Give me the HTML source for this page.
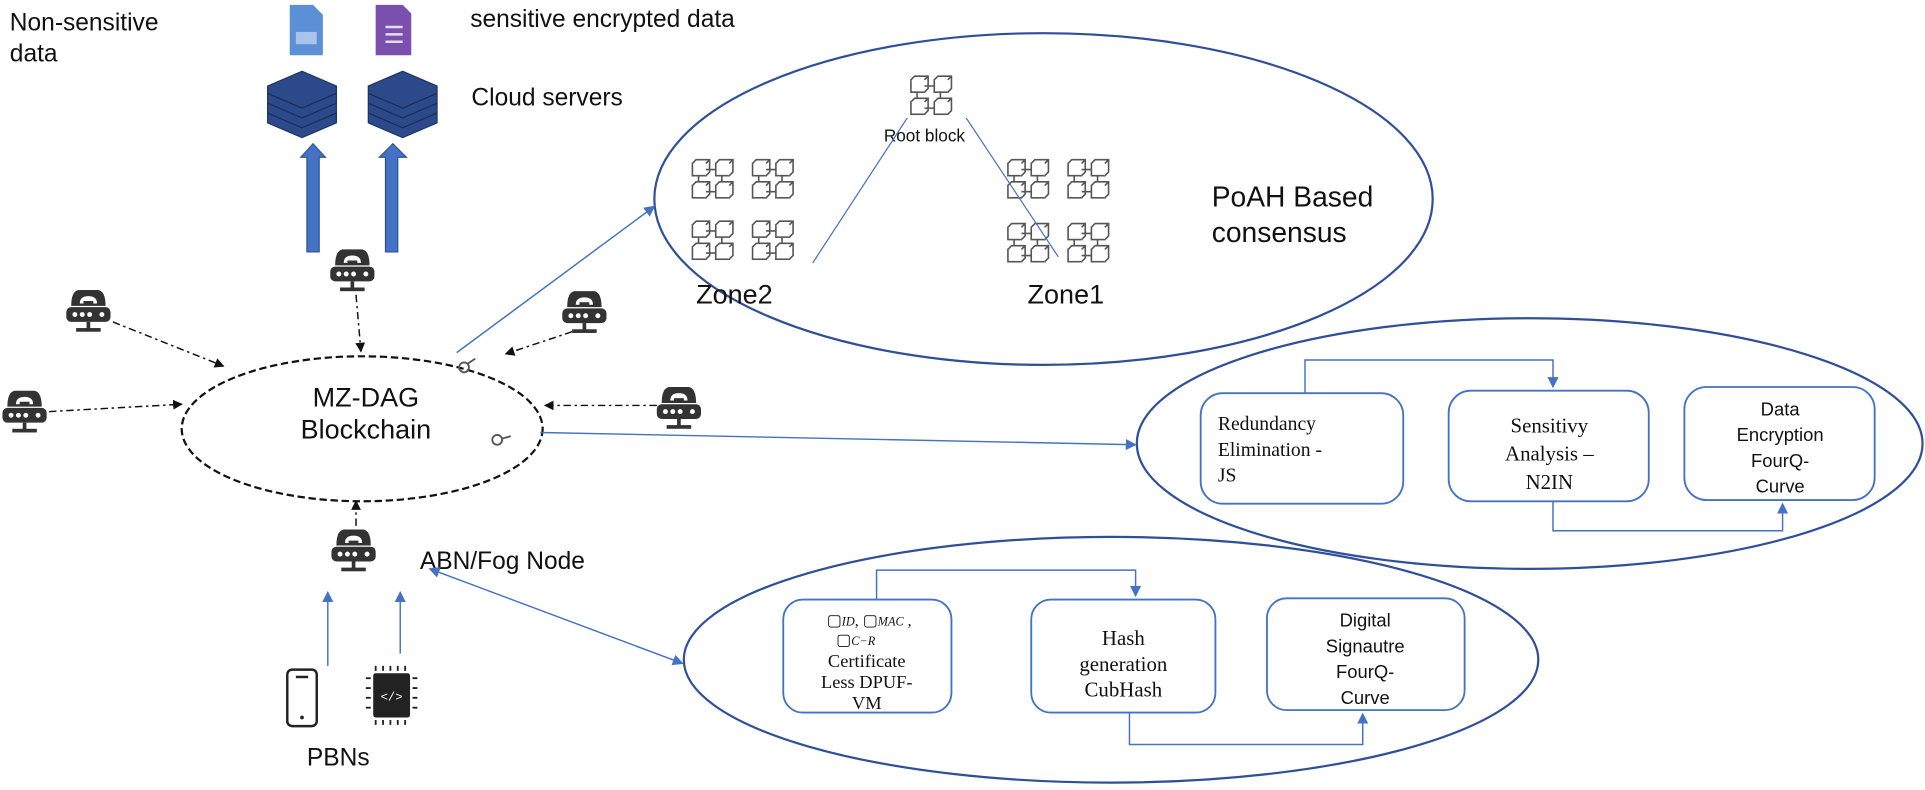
<!DOCTYPE html>
<html><head><meta charset="utf-8"><style>
html,body{margin:0;padding:0;background:#fff;width:1925px;height:790px;overflow:hidden}
svg{display:block}
.s{font-family:"Liberation Sans",sans-serif;fill:#111}
.r{font-family:"Liberation Serif",serif;fill:#111}
</style></head><body>
<svg width="1925" height="790" viewBox="0 0 1568 643" preserveAspectRatio="none" xmlns="http://www.w3.org/2000/svg">
<defs>
<marker id="ab" markerWidth="8" markerHeight="8" refX="7" refY="4" orient="auto" markerUnits="userSpaceOnUse"><path d="M0,0 L8,4 L0,8 z" fill="#111"/></marker>
<marker id="abl" markerWidth="9" markerHeight="9" refX="8" refY="4.5" orient="auto" markerUnits="userSpaceOnUse"><path d="M0,0 L9,4.5 L0,9 z" fill="#4472c4"/></marker>
<marker id="abls" markerWidth="9" markerHeight="9" refX="1" refY="4.5" orient="auto" markerUnits="userSpaceOnUse"><path d="M9,0 L0,4.5 L9,9 z" fill="#4472c4"/></marker>
<g id="rt">
<path d="M4,14 Q4,2 10,1 L26,1 Q32,2 32,14 Z" fill="#333"/>
<path d="M11,12 Q11,6 18,6 Q25,6 25,12 L22,12 L22,10 L14,10 L14,12 Z" fill="#fff"/>
<rect x="0" y="15" width="36" height="12" rx="4" fill="#333"/>
<circle cx="7" cy="21" r="2" fill="#fff"/><circle cx="13" cy="21" r="2" fill="#fff"/><circle cx="19" cy="21" r="2" fill="#fff"/><circle cx="29" cy="21" r="2" fill="#fff"/>
<rect x="16.5" y="27" width="3" height="6" fill="#333"/><rect x="8" y="32" width="20" height="3" fill="#333"/>
</g>
<g id="cb" fill="#fff" stroke="#555" stroke-width="1.3">
<rect x="1" y="3" width="11" height="10"/><path d="M1,3 l3,-3 h11 v10 l-3,3 M12,3 l3,-3"/>
<rect x="20" y="3" width="11" height="10"/><path d="M20,3 l3,-3 h11 v10 l-3,3 M31,3 l3,-3"/>
<rect x="1" y="21" width="11" height="10"/><path d="M1,21 l3,-3 h11 v10 l-3,3 M12,21 l3,-3"/>
<rect x="20" y="21" width="11" height="10"/><path d="M20,21 l3,-3 h11 v10 l-3,3 M31,21 l3,-3"/>
<path d="M12,8 h8 M12,26 h8 M6,13 v5 M25,13 v5"/>
</g>
</defs>

<text class="s" x="8" y="25" font-size="20">Non-sensitive</text>
<text class="s" x="8" y="50" font-size="20">data</text>
<text class="s" x="383" y="22" font-size="20">sensitive encrypted data</text>
<text class="s" x="384" y="86" font-size="20">Cloud servers</text>
<path d="M236,4 h19 l8,8 v33 h-27 z" fill="#5b8fd6"/><rect x="241" y="26" width="17" height="10" fill="#a9c4ea"/>
<path d="M306,4 h22 l7,7 v34 h-29 z" fill="#7a4fae"/><path d="M314,22 h14 M314,28 h14 M314,34 h14" stroke="#e5dcf2" stroke-width="2"/>
<g fill="#2c4a8a" stroke="#1e3568" stroke-width="1">
<path d="M218,70 L246,58 L274,70 L274,100 L246,112 L218,100 Z"/>
<path d="M300,70 L328,58 L356,70 L356,100 L328,112 L300,100 Z"/>
</g>
<g stroke="#1a2d5c" stroke-width="1" fill="none">
<path d="M218,76 L246,88 L274,76 M218,84 L246,96 L274,84 M218,92 L246,104 L274,92"/>
<path d="M300,76 L328,88 L356,76 M300,84 L328,96 L356,84 M300,92 L328,104 L356,92"/>
</g>
<path d="M250,205 V128 H245 L255,117 L265,128 H260 V205 Z" fill="#4472c4" stroke="#2f5597" stroke-width="1"/>
<path d="M314,205 V128 H309 L320,117 L331,128 H324 V205 Z" fill="#4472c4" stroke="#2f5597" stroke-width="1"/>

<use href="#rt" x="269" y="202"/>
<use href="#rt" x="54" y="235"/>
<use href="#rt" x="2" y="317"/>
<use href="#rt" x="458" y="236"/>
<use href="#rt" x="535" y="314"/>
<use href="#rt" x="270" y="430"/>

<ellipse cx="295" cy="349" rx="147" ry="59" fill="none" stroke="#111" stroke-width="1.8" stroke-dasharray="6,3"/>
<text class="s" x="298" y="331" font-size="22" text-anchor="middle">MZ-DAG</text>
<text class="s" x="298" y="357" font-size="22" text-anchor="middle">Blockchain</text>
<g fill="none" stroke="#555" stroke-width="1.5"><circle cx="378" cy="299" r="4"/><path d="M381,296 l6,-4"/><circle cx="405" cy="358" r="4"/><path d="M409,357 l7,-2"/></g>
<g stroke="#111" stroke-width="1.2" stroke-dasharray="6,3,2,3" fill="none">
<path d="M290,240 L294,286" marker-end="url(#ab)"/>
<path d="M92,262 L182,298" marker-end="url(#ab)"/>
<path d="M40,335 L148,329" marker-end="url(#ab)"/>
<path d="M466,270 L412,288" marker-end="url(#ab)"/>
<path d="M535,330 L444,330" marker-end="url(#ab)"/>
<path d="M290,428 L290,408" marker-end="url(#ab)"/>
</g>

<ellipse cx="850" cy="162" rx="317" ry="135" fill="none" stroke="#2f4f9a" stroke-width="1.8"/>
<path d="M372,287 L533,168" stroke="#4472c4" stroke-width="1.2" marker-end="url(#abl)"/>
<use href="#cb" x="741" y="62"/>
<text class="s" x="753" y="115" font-size="14" text-anchor="middle">Root block</text>
<use href="#cb" x="563" y="130"/><use href="#cb" x="612" y="130"/><use href="#cb" x="563" y="180"/><use href="#cb" x="612" y="180"/>
<use href="#cb" x="820" y="130"/><use href="#cb" x="869" y="130"/><use href="#cb" x="820" y="182"/><use href="#cb" x="869" y="182"/>
<path d="M739,96 L662,214 M787,96 L862,209" stroke="#4472c4" stroke-width="1"/>
<text class="s" x="567" y="247" font-size="22">Zone2</text>
<text class="s" x="837" y="247" font-size="22">Zone1</text>
<text class="s" x="987" y="168" font-size="23">PoAH Based</text>
<text class="s" x="987" y="197" font-size="23">consensus</text>

<ellipse cx="1246" cy="361" rx="320" ry="102" fill="none" stroke="#2f4f9a" stroke-width="1.8"/>
<path d="M440,352 L925,362" stroke="#4472c4" stroke-width="1.2" marker-end="url(#abl)"/>
<g fill="#fff" stroke="#4472c4" stroke-width="1.5">
<rect x="978" y="320" width="165" height="90" rx="18"/>
<rect x="1180" y="318" width="163" height="90" rx="18"/>
<rect x="1372" y="315" width="155" height="92" rx="18"/>
</g>
<path d="M1063,320 V293 H1265 V315" fill="none" stroke="#4472c4" stroke-width="1.2" marker-end="url(#abl)"/>
<path d="M1265,408 V432 H1452 V410" fill="none" stroke="#4472c4" stroke-width="1.2" marker-end="url(#abl)"/>
<text class="r" font-size="16"><tspan x="992" y="350">Redundancy</tspan><tspan x="992" y="371">Elimination -</tspan><tspan x="992" y="392">JS</tspan></text>
<text class="r" font-size="17" text-anchor="middle"><tspan x="1262" y="352">Sensitivy</tspan><tspan x="1262" y="375">Analysis –</tspan><tspan x="1262" y="398">N2IN</tspan></text>
<text class="s" font-size="15" text-anchor="middle"><tspan x="1450" y="338">Data</tspan><tspan x="1450" y="359">Encryption</tspan><tspan x="1450" y="380">FourQ-</tspan><tspan x="1450" y="401">Curve</tspan></text>

<text class="s" x="342" y="463" font-size="20">ABN/Fog Node</text>
<path d="M350,463 L556,540" stroke="#4472c4" stroke-width="1.2" marker-start="url(#abls)" marker-end="url(#abl)"/>
<path d="M267,542 V482" stroke="#4472c4" stroke-width="1.2" marker-end="url(#abl)"/>
<path d="M326,532 V482" stroke="#4472c4" stroke-width="1.2" marker-end="url(#abl)"/>
<rect x="234" y="545" width="24" height="46" rx="4" fill="#fff" stroke="#222" stroke-width="2"/>
<path d="M241,551 h10" stroke="#222" stroke-width="2"/><circle cx="246" cy="584" r="1.5" fill="#222"/>
<g fill="#222"><rect x="304" y="548" width="30" height="36" rx="2"/>
<path d="M306,546 v-4 M312,546 v-4 M318,546 v-4 M324,546 v-4 M330,546 v-4 M306,586 v4 M312,586 v4 M318,586 v4 M324,586 v4 M330,586 v4 M302,552 h-4 M302,560 h-4 M302,568 h-4 M302,576 h-4 M336,552 h4 M336,560 h4 M336,568 h4 M336,576 h4" stroke="#222" stroke-width="1.5"/></g>
<text x="319" y="570" font-size="10" fill="#fff" text-anchor="middle" font-family="Liberation Mono,monospace">&lt;/&gt;</text>
<text class="s" x="250" y="623" font-size="20">PBNs</text>

<ellipse cx="905" cy="537" rx="348" ry="100" fill="none" stroke="#2f4f9a" stroke-width="1.8"/>
<g fill="#fff" stroke="#4472c4" stroke-width="1.5">
<rect x="638" y="488" width="137" height="92" rx="16"/>
<rect x="840" y="488" width="150" height="92" rx="16"/>
<rect x="1032" y="487" width="161" height="91" rx="16"/>
</g>
<path d="M714,488 V464 H925 V485" fill="none" stroke="#4472c4" stroke-width="1.2" marker-end="url(#abl)"/>
<path d="M920,580 V606 H1110 V581" fill="none" stroke="#4472c4" stroke-width="1.2" marker-end="url(#abl)"/>
<text class="r" font-size="13" text-anchor="middle"><tspan x="708" y="509">▢<tspan font-style="italic" font-size="10">ID</tspan>, ▢<tspan font-style="italic" font-size="10">MAC</tspan> ,</tspan><tspan x="697" y="525">▢<tspan font-style="italic" font-size="10">C−R</tspan></tspan></text>
<text class="r" font-size="15" text-anchor="middle"><tspan x="706" y="543">Certificate</tspan><tspan x="706" y="560">Less DPUF-</tspan><tspan x="706" y="577">VM</tspan></text>
<text class="r" font-size="17" text-anchor="middle"><tspan x="915" y="525">Hash</tspan><tspan x="915" y="546">generation</tspan><tspan x="915" y="567">CubHash</tspan></text>
<text class="s" font-size="15" text-anchor="middle"><tspan x="1112" y="510">Digital</tspan><tspan x="1112" y="531">Signautre</tspan><tspan x="1112" y="552">FourQ-</tspan><tspan x="1112" y="573">Curve</tspan></text>
</svg>
</body></html>
